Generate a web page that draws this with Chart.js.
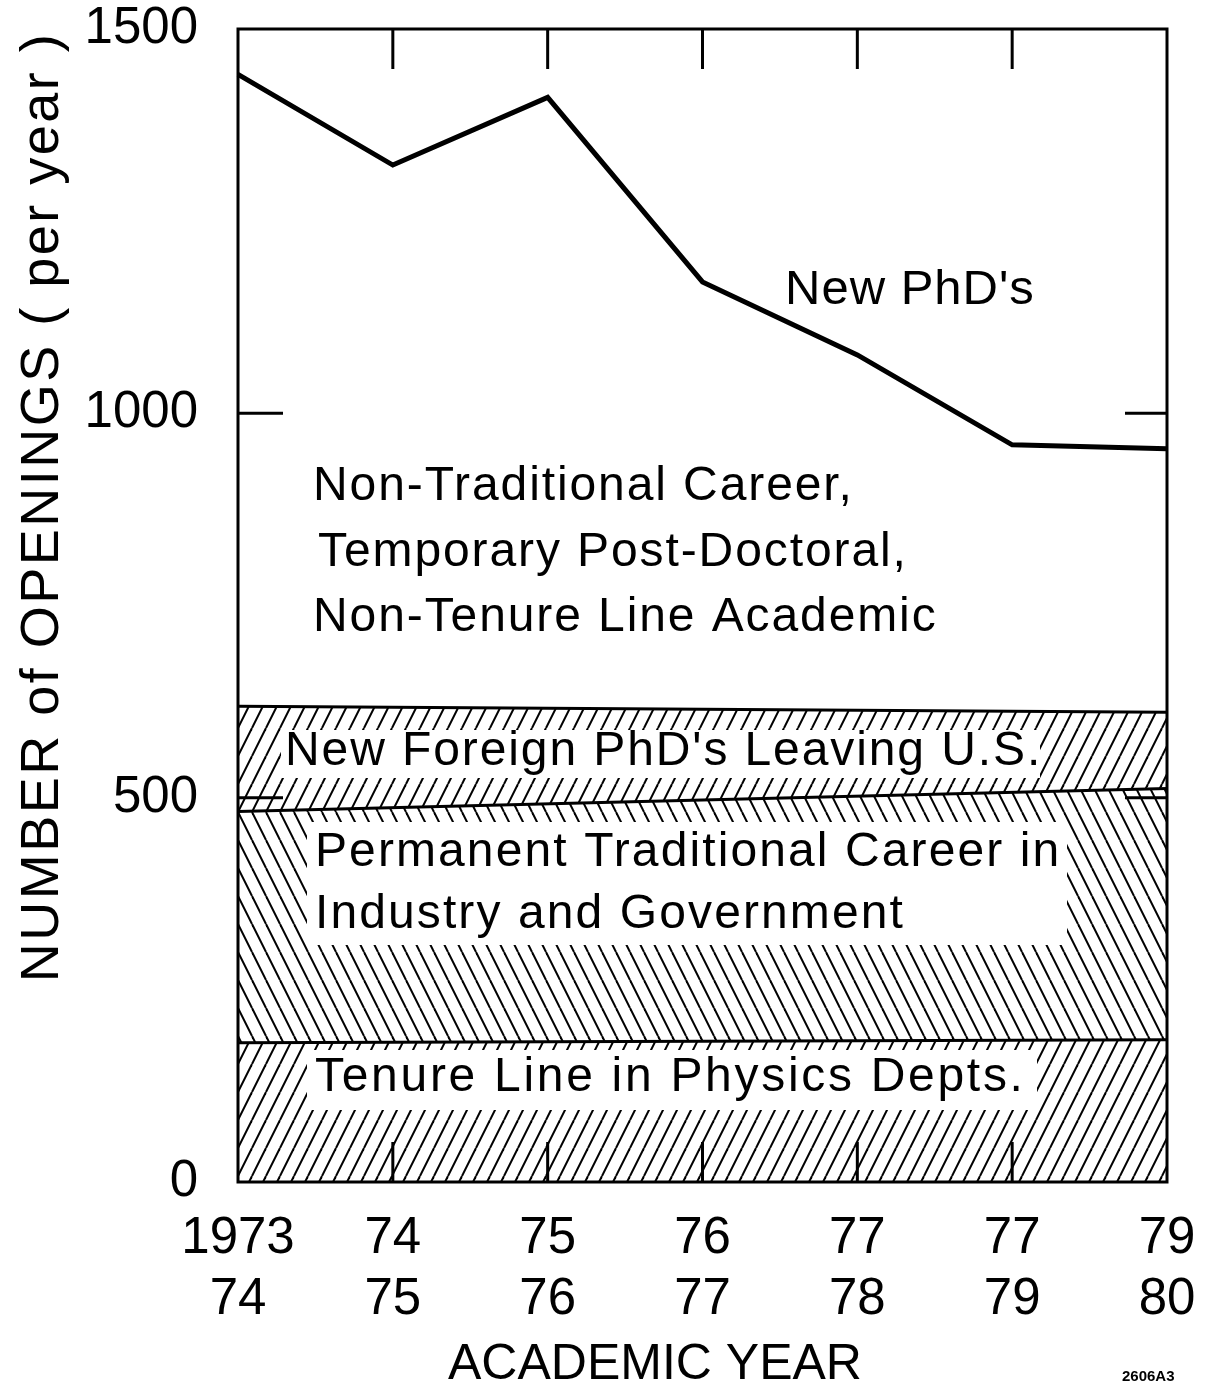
<!DOCTYPE html>
<html>
<head>
<meta charset="utf-8">
<script src="https://cdn.jsdelivr.net/npm/chart.js@4"></script>
<style>
  body { margin: 0; background: #fff; }
  canvas { display: block; }
</style>
</head>
<body>
<canvas id="myChart" width="1207" height="1390"></canvas>
<script>
// academic years, two-line tick labels
var yearsTop = ['1973', '74', '75', '76', '77', '77', '79'];
var yearsBottom = ['74', '75', '76', '77', '78', '79', '80'];
var yTicks = [0, 500, 1000, 1500];

// new PhD's per year
var newPhds = [1441, 1323, 1411, 1171, 1076, 959, 954];
// band tops (straight lines, read at both ends)
var tenureTop = [181, null, null, null, null, null, 185];
var permanentTop = [482, null, null, null, null, null, 512];
var foreignTop = [619, null, null, null, null, null, 611];

var labels = yearsTop.map(function (a, i) { return [a, yearsBottom[i]]; });

var FONT = "'Liberation Sans', Arial, sans-serif";
var canvas = document.getElementById('myChart');
var ctx = canvas.getContext('2d');

function hatch(dir) {
    var c = document.createElement('canvas');
    c.width = 14; c.height = 28;
    var g = c.getContext('2d');
    g.strokeStyle = '#000';
    g.lineWidth = 2;
    [-14, 0, 14].forEach(function (k) {
        g.beginPath();
        if (dir === '/') { g.moveTo(k, 28); g.lineTo(k + 14, 0); }
        else { g.moveTo(k, 0); g.lineTo(k + 14, 28); }
        g.stroke();
    });
    return ctx.createPattern(c, 'repeat');
}

function txt(c, s, x, y, size, spacing) {
    c.font = size + 'px ' + FONT;
    c.letterSpacing = (spacing || 0) + 'px';
    c.fillText(s, x, y);
    c.letterSpacing = '0px';
}

// chart.js adds tick padding to the scale padding, drop it so the plot area stays put
function noScalePadding(s) {
    s.paddingTop = 0; s.paddingBottom = 0; s.paddingLeft = 0; s.paddingRight = 0;
}

var decorations = {
    id: 'decorations',
    afterDatasetsDraw: function (chart) {
        var c = chart.ctx, a = chart.chartArea;
        var xs = chart.scales.x, ys = chart.scales.y;
        c.save();
        // white boxes behind the band labels
        c.fillStyle = '#fff';
        c.fillRect(281, 730, 759, 48);
        c.fillRect(307, 822, 760, 123);
        c.fillRect(307, 1050, 730, 60);

        // frame
        c.strokeStyle = '#000';
        c.lineWidth = 3;
        c.strokeRect(a.left, a.top, a.right - a.left, a.bottom - a.top);

        // inward ticks
        c.beginPath();
        for (var i = 1; i < labels.length - 1; i++) {
            var px = xs.getPixelForValue(i);
            c.moveTo(px, a.top); c.lineTo(px, a.top + 40);
            c.moveTo(px, a.bottom); c.lineTo(px, a.bottom - 40);
        }
        [500, 1000].forEach(function (v) {
            var py = ys.getPixelForValue(v);
            c.moveTo(a.left, py); c.lineTo(a.left + 45, py);
            c.moveTo(a.right, py); c.lineTo(a.right - 42, py);
        });
        c.stroke();

        // labels
        c.fillStyle = '#000';
        c.textBaseline = 'middle';
        c.textAlign = 'left';
        txt(c, "New PhD's", 785, 290, 49, 1);
        txt(c, 'Non-Traditional Career,', 313, 487, 48, 1.9);
        txt(c, 'Temporary Post-Doctoral,', 318, 553, 48, 1.9);
        txt(c, 'Non-Tenure Line Academic', 313, 618, 48, 1.9);
        txt(c, "New Foreign PhD's Leaving U.S.", 285, 752, 48, 1.9);
        txt(c, 'Permanent Traditional Career in', 315, 853, 48, 2.1);
        txt(c, 'Industry and Government', 315, 915, 48, 2.1);
        txt(c, 'Tenure Line in Physics Depts.', 315, 1078, 48, 2.7);
        c.font = 'bold 15px ' + FONT;
        c.fillText('2606A3', 1122, 1377);

        // axis titles
        c.textAlign = 'center';
        txt(c, 'ACADEMIC YEAR', 655, 1365, 50, 0);
        c.translate(43, 507);
        c.rotate(-Math.PI / 2);
        txt(c, 'NUMBER of OPENINGS ( per year )', 0, 0, 54, 2.5);
        c.restore();
    }
};

var chart = new Chart(ctx, {
    type: 'line',
    data: {
        labels: labels,
        datasets: [
            {
                label: 'Tenure Line in Physics Depts.',
                data: tenureTop,
                spanGaps: true,
                fill: 'origin',
                backgroundColor: hatch('/'),
                borderColor: '#000',
                borderWidth: 3,
                pointRadius: 0
            },
            {
                label: 'Permanent Traditional Career',
                data: permanentTop,
                spanGaps: true,
                fill: '-1',
                backgroundColor: hatch('\\'),
                borderColor: '#000',
                borderWidth: 3,
                pointRadius: 0
            },
            {
                label: "New Foreign PhD's Leaving U.S.",
                data: foreignTop,
                spanGaps: true,
                fill: '-1',
                backgroundColor: hatch('/'),
                borderColor: '#000',
                borderWidth: 3,
                pointRadius: 0
            },
            {
                label: "New PhD's",
                data: newPhds,
                fill: false,
                borderColor: '#000',
                borderWidth: 5,
                borderJoinStyle: 'miter',
                pointRadius: 0,
                tension: 0
            }
        ]
    },
    options: {
        responsive: false,
        animation: false,
        layout: { padding: { top: 29, right: 40, bottom: 0, left: 0 } },
        plugins: { legend: { display: false }, tooltip: { enabled: false } },
        scales: {
            x: {
                type: 'category',
                offset: false,
                grid: { display: false, drawTicks: false },
                border: { display: false },
                ticks: {
                    color: '#000',
                    font: { family: FONT, size: 51 },
                    padding: 26,
                    maxRotation: 0,
                    autoSkip: false
                },
                afterFit: function (s) { s.height = 208; noScalePadding(s); }
            },
            y: {
                min: 0,
                max: 1500,
                grid: { display: false, drawTicks: false },
                border: { display: false },
                ticks: {
                    color: '#000',
                    font: { family: FONT, size: 51 },
                    padding: 40,
                    callback: function (v) { return String(v); }
                },
                afterBuildTicks: function (s) {
                    s.ticks = yTicks.map(function (v) { return { value: v }; });
                },
                afterFit: function (s) { s.width = 238; noScalePadding(s); }
            }
        }
    },
    plugins: [decorations]
});
</script>
</body>
</html>
